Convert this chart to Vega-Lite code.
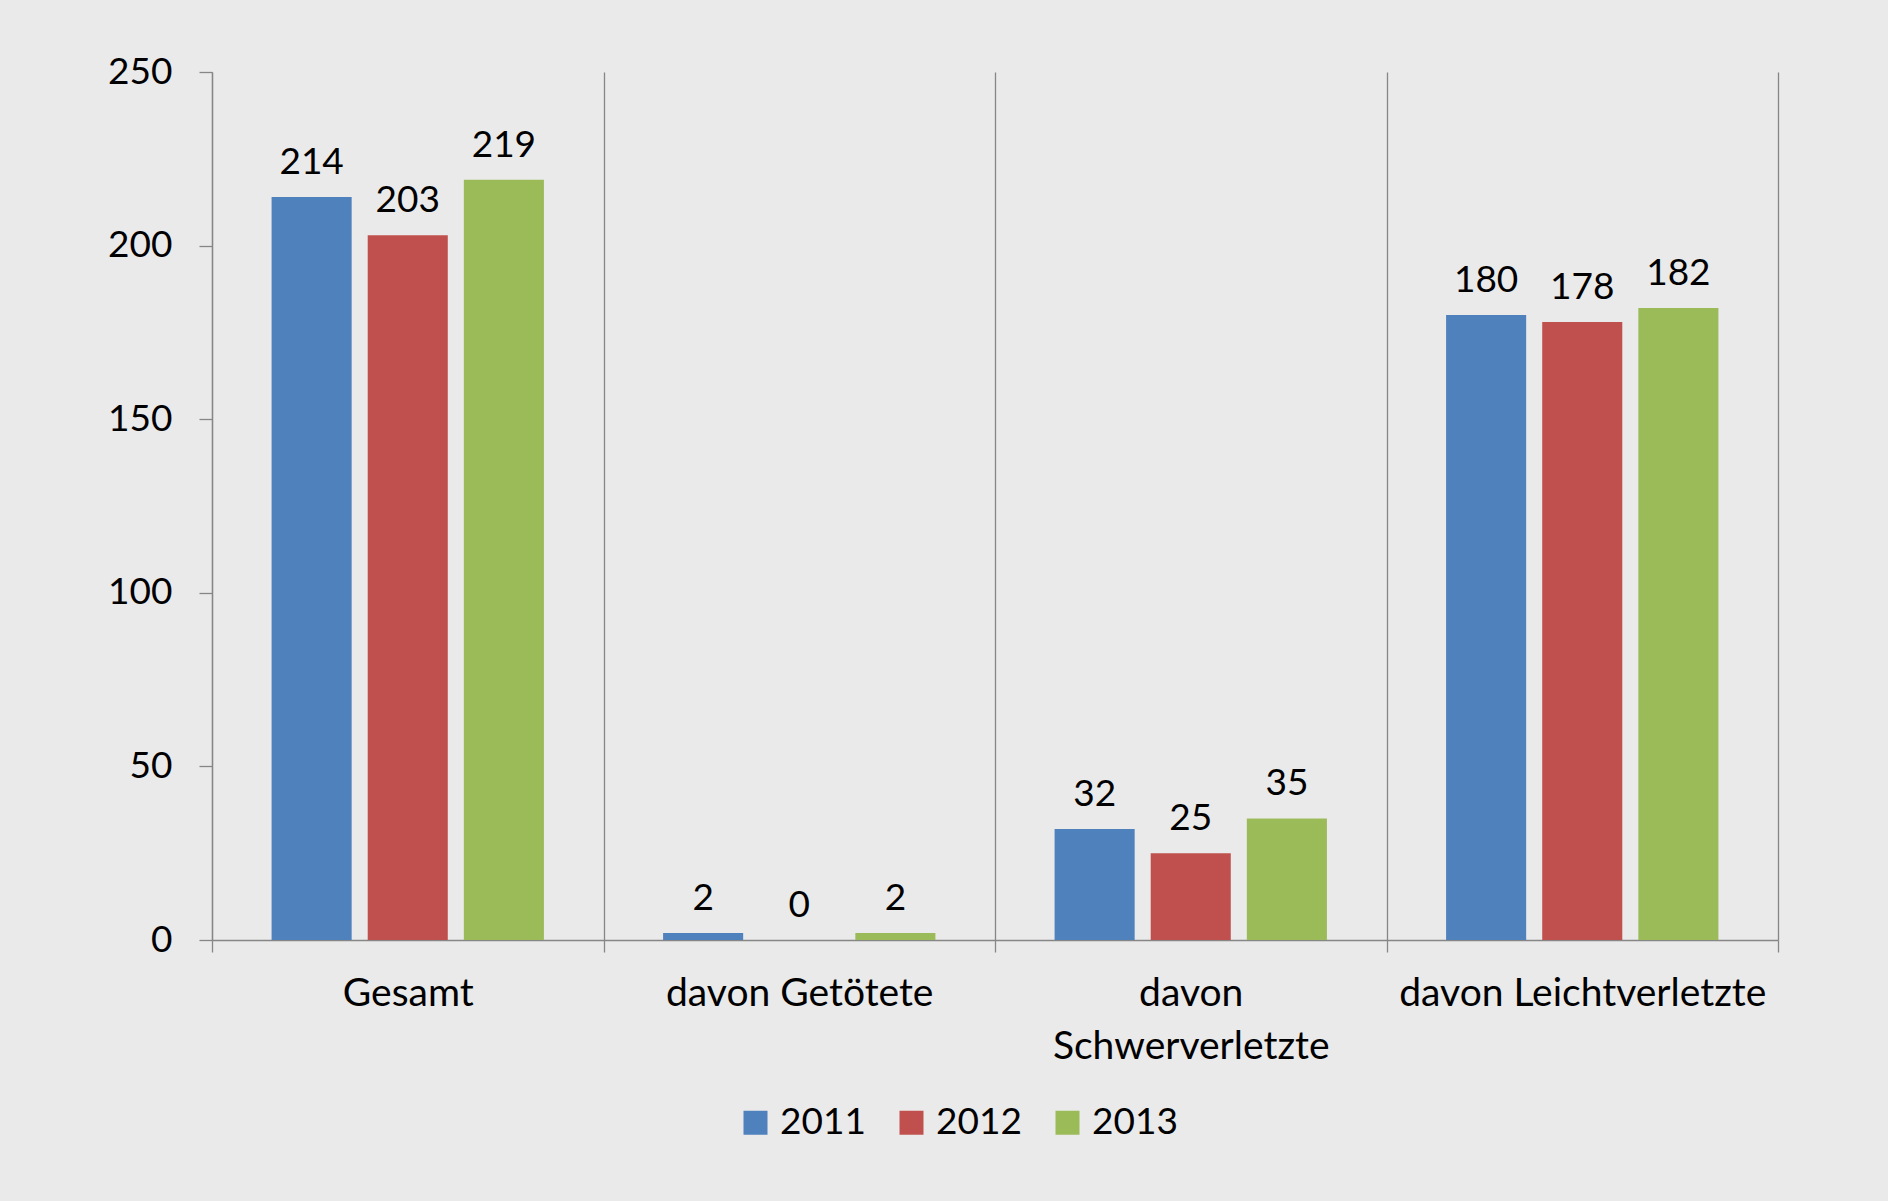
{
  "$schema": "https://vega.github.io/schema/vega-lite/v6.json",
  "autosize": {"type": "none"},
  "width": 1566,
  "height": 868,
  "padding": {"left": 212, "top": 72, "right": 110, "bottom": 261},
  "background": "#eaeaea",
  "config": {
    "view": {"stroke": null},
    "font": "Lato",
    "axis": {"labelFont": "Lato", "labelFontSize": 37, "labelColor": "#000000", "domainColor": "#868686", "tickColor": "#868686", "gridColor": "#868686", "domainWidth": 1.3, "tickWidth": 1.3, "gridWidth": 1.3, "labelLimit": 0},
    "legend": {"labelFont": "Lato", "labelFontSize": 37, "labelColor": "#000000", "labelLimit": 0}
  },
  "data": {"values": [
    {"kategorie": "Gesamt", "jahr": "2011", "wert": 214},
    {"kategorie": "Gesamt", "jahr": "2012", "wert": 203},
    {"kategorie": "Gesamt", "jahr": "2013", "wert": 219},
    {"kategorie": "davon Getötete", "jahr": "2011", "wert": 2},
    {"kategorie": "davon Getötete", "jahr": "2012", "wert": 0},
    {"kategorie": "davon Getötete", "jahr": "2013", "wert": 2},
    {"kategorie": "davon Schwerverletzte", "jahr": "2011", "wert": 32},
    {"kategorie": "davon Schwerverletzte", "jahr": "2012", "wert": 25},
    {"kategorie": "davon Schwerverletzte", "jahr": "2013", "wert": 35},
    {"kategorie": "davon Leichtverletzte", "jahr": "2011", "wert": 180},
    {"kategorie": "davon Leichtverletzte", "jahr": "2012", "wert": 178},
    {"kategorie": "davon Leichtverletzte", "jahr": "2013", "wert": 182}
  ]},
  "encoding": {
    "x": {
      "field": "kategorie", "type": "nominal",
      "sort": ["Gesamt", "davon Getötete", "davon Schwerverletzte", "davon Leichtverletzte"],
      "scale": {"paddingInner": 0, "paddingOuter": 0},
      "axis": {
        "title": null, "labelAngle": 0, "tickBand": "extent", "grid": true, "tickSize": 12,
        "labelPadding": 22, "labelBaseline": "top", "labelLineHeight": 53, "labelLimit": 0, "labelFontSize": 39,
        "labelExpr": "datum.value == 'davon Schwerverletzte' ? ['davon', 'Schwerverletzte'] : datum.label"
      }
    },
    "xOffset": {
      "field": "jahr", "type": "nominal",
      "scale": {"paddingInner": 0.167, "paddingOuter": 0.62}
    },
    "y": {
      "field": "wert", "type": "quantitative",
      "scale": {"domain": [0, 250], "nice": false},
      "axis": {"title": null, "values": [0, 50, 100, 150, 200, 250], "grid": false, "tickSize": 13, "labelPadding": 27}
    }
  },
  "layer": [
    {
      "mark": {"type": "bar"},
      "encoding": {
        "color": {
          "field": "jahr", "type": "nominal",
          "scale": {"domain": ["2011", "2012", "2013"], "range": ["#4f81bd", "#c0504d", "#9bbb59"]},
          "legend": {
            "title": null, "orient": "none", "direction": "horizontal",
            "legendX": 525, "legendY": 1032, "padding": 0,
            "symbolType": "square", "symbolSize": 576, "symbolStrokeWidth": 0,
            "labelOffset": 6, "columnPadding": 27
          }
        }
      }
    },
    {
      "mark": {"type": "text", "baseline": "alphabetic", "align": "center", "dy": -23, "fontSize": 37, "font": "Lato", "color": "#000000"},
      "encoding": {"text": {"field": "wert", "type": "quantitative"}}
    }
  ]
}
